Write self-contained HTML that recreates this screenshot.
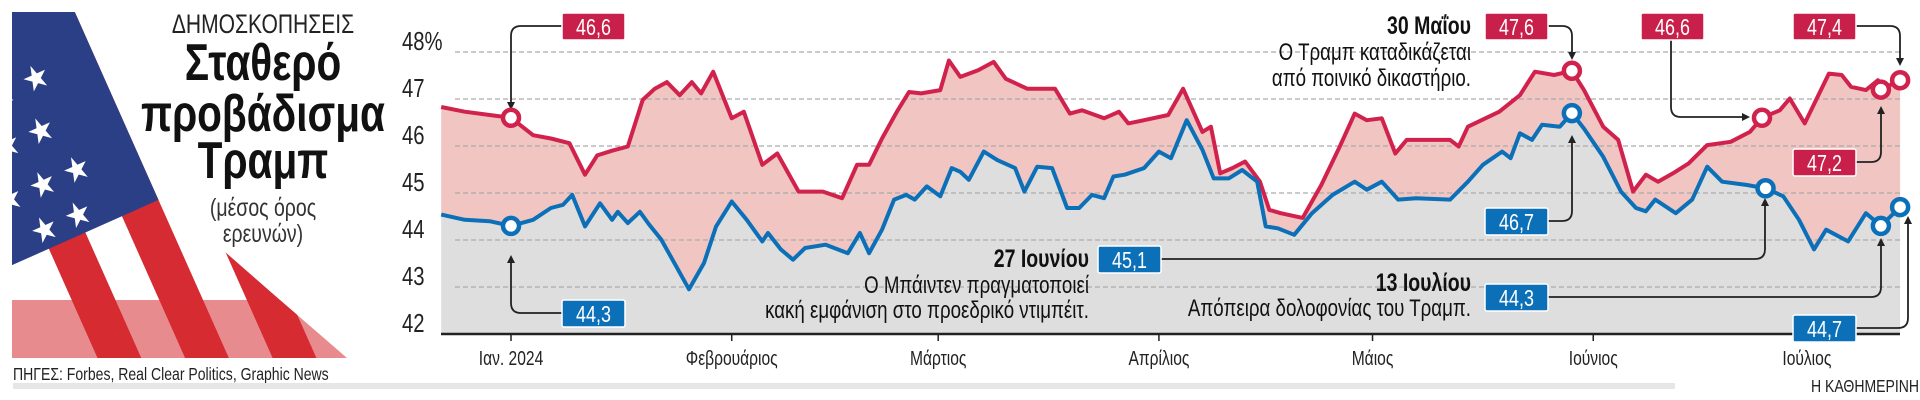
<!DOCTYPE html>
<html><head><meta charset="utf-8"><style>
html,body{margin:0;padding:0;background:#fff;overflow:hidden;width:1920px;height:400px;}
svg{display:block;}
text{font-family:"Liberation Sans Narrow","Liberation Sans","DejaVu Sans Condensed",sans-serif;}
</style></head><body>
<svg id="chart" width="1920" height="400" viewBox="0 0 1920 400" xmlns="http://www.w3.org/2000/svg">
  <defs>
    <clipPath id="flagclip"><polygon points="12,12 85,12 150,120 200,230 280,300 347,358 12,358"/></clipPath>
  </defs>
  <g clip-path="url(#flagclip)">
    <rect x="12" y="12" width="335" height="346" fill="#f4f1f1"/>
    <g transform="rotate(-24 60 200)">
      <rect x="-80" y="-40" width="600" height="600" fill="#fff"/>
      <rect x="30" y="-40" width="40" height="600" fill="#d62b32"/>
      <rect x="110" y="-40" width="40" height="600" fill="#d62b32"/>
      <rect x="190" y="-40" width="40" height="600" fill="#d62b32"/>
      <rect x="270" y="-40" width="40" height="600" fill="#d62b32"/>
      <rect x="350" y="-40" width="40" height="600" fill="#d62b32"/>
      <rect x="-80" y="-40" width="230" height="280" fill="#2b3f86"/>
      <text class="star" x="20" y="40" font-size="34" fill="#fff">★ ★</text>
      <text class="star" x="0" y="90" font-size="34" fill="#fff">★ ★ ★</text>
      <text class="star" x="20" y="140" font-size="34" fill="#fff">★ ★</text>
      <text class="star" x="0" y="190" font-size="34" fill="#fff">★ ★ ★</text>
      <text class="star" x="20" y="232" font-size="34" fill="#fff">★ ★</text>
    </g>
    <rect x="12" y="300" width="335" height="58" fill="#d62b32" opacity="0.55"/>
  </g>
  <text x="263" y="33" font-size="27" text-anchor="middle" fill="#222">ΔΗΜΟΣΚΟΠΗΣΕΙΣ</text>
  <text x="263" y="80" font-size="52" font-weight="bold" text-anchor="middle" fill="#111">Σταθερό</text>
  <text x="263" y="131" font-size="52" font-weight="bold" text-anchor="middle" fill="#111">προβάδισμα</text>
  <text x="263" y="178" font-size="52" font-weight="bold" text-anchor="middle" fill="#111">Τραμπ</text>
  <text x="263" y="216" font-size="25" text-anchor="middle" fill="#333">(μέσος όρος</text>
  <text x="263" y="242" font-size="25" text-anchor="middle" fill="#333">ερευνών)</text>
  <text x="13" y="380" font-size="18" fill="#222">ΠΗΓΕΣ: Forbes, Real Clear Politics, Graphic News</text>
  <rect x="13" y="383" width="1662" height="6" fill="#e6e6e6"/>
  <text x="1919" y="392" font-size="18" text-anchor="end" fill="#222">Η ΚΑΘΗΜΕΡΙΝΗ</text>
  <g id="plot"></g>
</svg>
<script>
const yTicks = [42, 43, 44, 45, 46, 47, 48];
const yTickLabels = ["42", "43", "44", "45", "46", "47", "48%"];
const monthDays = [0, 31, 60, 91, 121, 152, 182];
const monthLabels = ["Ιαν. 2024", "Φεβρουάριος", "Μάρτιος", "Απρίλιος", "Μάιος", "Ιούνιος", "Ιούλιος"];
const trumpDays = [-9.8,-6.5,-3,0,3.1,5.6,8.2,10.4,12.1,14.2,16.4,18.5,20.2,21.9,23.7,25.4,26.7,28.4,31,32.7,35.3,37.4,40.4,43.8,46.5,48.6,50.3,52.1,54.2,55.9,57.6,60.3,61.5,63.1,65.6,67.8,69.5,72.5,76.4,78.5,80.2,83.3,85.4,86.7,88.9,92.3,94.4,97.1,98.3,99.6,101.3,103.1,105.2,106.5,108.1,111.2,113.8,116.4,118.5,120.2,122.3,124.2,125.8,131.9,133.1,134.4,138.8,141.7,143.8,146.5,149,150.7,153.4,155.5,157.6,159.4,161.1,163.2,165.4,168,171.3,174,175.7,178.2,179.6,181.7,185.1,186.9,188.2,190.3,192,192.4,195.1];
const trumpVals = [46.83,46.73,46.66,46.6,46.23,46.16,46.06,45.39,45.8,45.9,45.99,46.98,47.22,47.36,47.08,47.36,47.12,47.58,46.59,46.73,45.6,45.84,45.03,45.03,44.89,45.6,45.6,46.16,46.73,47.15,47.12,47.19,47.82,47.47,47.61,47.79,47.43,47.22,47.22,46.69,46.76,46.59,46.73,46.48,46.55,46.66,47.22,46.3,46.41,45.42,45.53,45.67,45.24,44.64,44.57,44.47,45.17,45.99,46.69,46.55,46.59,45.84,46.13,46.13,45.99,46.41,46.73,47.08,47.58,47.51,47.6,47.19,46.41,46.13,45.03,45.39,45.24,45.42,45.63,46.02,46.09,46.3,46.6,46.76,47.01,46.48,47.54,47.51,47.26,47.19,47.4,47.2,47.4];
const bidenDays = [-9.8,-6.5,-3,0,3.1,5.6,7.3,8.6,10.4,12.5,14.2,15,16.4,18.1,19.4,21.1,23.2,25,27.1,28.8,31,33.1,35.3,36.1,37.9,39.6,41.3,44.2,47.3,49,50.3,52.1,53.8,55.5,56.7,58.4,60.3,61.9,63.1,64.3,66.4,68.3,70.8,72.1,73.9,76,78.1,79.8,81.6,83.3,84.6,86.2,88.9,91,92.7,94.9,97.1,98.7,100.8,102.7,104.8,106,107.7,110,112.5,115.4,118.5,120.2,122.3,124.6,127.1,131.9,134.4,136.5,139.2,140.4,141.7,143.4,144.8,147.3,149,150.7,153.4,155.9,158,159.4,160.7,163.6,165.9,168,170.1,173.6,176.2,178.7,180.9,183,184.7,187.8,190.3,192.4,195.1];
const bidenVals = [44.54,44.43,44.4,44.3,44.43,44.68,44.75,44.96,44.29,44.78,44.43,44.6,44.36,44.6,44.33,44.01,43.44,42.95,43.51,44.29,44.82,44.43,43.97,44.15,43.8,43.58,43.83,43.9,43.72,44.15,43.72,44.22,44.86,44.96,44.86,45.14,44.93,45.53,45.45,45.28,45.88,45.7,45.53,45.03,45.56,45.53,44.68,44.68,44.96,44.89,45.35,45.39,45.53,45.88,45.74,46.55,45.92,45.31,45.31,45.49,45.24,44.29,44.25,44.11,44.57,44.96,45.24,45.07,45.24,44.86,44.89,44.86,45.24,45.6,45.88,45.74,46.27,46.13,46.45,46.41,46.7,46.37,45.77,45.03,44.68,44.61,44.86,44.57,44.86,45.56,45.24,45.17,45.1,44.93,44.43,43.8,44.22,43.97,44.57,44.3,44.7];
const trumpMarkerDays = [0, 149, 175.7, 192.4, 195.1];
const trumpMarkerVals = [46.6, 47.6, 46.6, 47.2, 47.4];
const bidenMarkerDays = [0, 149, 176.2, 192.4, 195.1];
const bidenMarkerVals = [44.3, 46.7, 45.1, 44.3, 44.7];

const NS = "http://www.w3.org/2000/svg";
const plot = document.getElementById("plot");
const X0 = 511, PXDAY = 7.12, YBASE = 334, PXUNIT = 47, XL = 441, XR = 1900;
function xS(d){ return X0 + d * PXDAY; }
function yS(v){ return YBASE - (v - 42) * PXUNIT; }
function mk(tag, attrs, parent){ const e = document.createElementNS(NS, tag); for (const k in attrs) e.setAttribute(k, attrs[k]); (parent || plot).appendChild(e); return e; }
function pts(ds, vs){ return ds.map((d,i)=>xS(d).toFixed(1)+","+yS(vs[i]).toFixed(1)); }

const bp = pts(bidenDays, bidenVals);
const ga = mk("polygon", {points: bp.join(" ") + " " + xS(bidenDays[bidenDays.length-1]).toFixed(1) + "," + YBASE + " " + xS(bidenDays[0]).toFixed(1) + "," + YBASE, fill: "#dedede"});


const tp = pts(trumpDays, trumpVals);
const pa = mk("polygon", {points: tp.join(" ") + " " + bp.slice().reverse().join(" "), fill: "#f1c5c1"});



yTicks.forEach((t,i)=>{
  if (i > 0) {
    const g = mk("line", {x1: 455, x2: XR, y1: yS(t), y2: yS(t), stroke: "#aaa", "stroke-width": 1.2, "stroke-dasharray": "5,3"});
    
    
  }
  const lb = mk("text", {x: 402, y: yS(t) - 2, "font-size": 26, fill: "#222"});
  lb.textContent = yTickLabels[i];
  
  
});
const ax = mk("line", {x1: XL, x2: XR, y1: YBASE, y2: YBASE, stroke: "#222", "stroke-width": 2.5});


monthDays.forEach((d,i)=>{
  const tk = mk("line", {x1: xS(d), x2: xS(d), y1: YBASE, y2: YBASE + 7, stroke: "#222", "stroke-width": 1.5});
  
  
  const lb = mk("text", {x: xS(d), y: 365, "font-size": 20, "text-anchor": "middle", fill: "#222"});
  lb.textContent = monthLabels[i];
  
  
});

const tl = mk("polyline", {points: tp.join(" "), fill: "none", stroke: "#d0224c", "stroke-width": 4, "stroke-linejoin": "round"});


const bl = mk("polyline", {points: bp.join(" "), fill: "none", stroke: "#0b70b8", "stroke-width": 4, "stroke-linejoin": "round"});



function arrow(d){
  const p = mk("path", {d: d, fill: "none", stroke: "#222", "stroke-width": 1.8});
  
  
}
function head(x, y, dir){
  const s = dir === "down" ? `${x-4},${y-8} ${x+4},${y-8} ${x},${y}` : dir === "up" ? `${x-4},${y+8} ${x+4},${y+8} ${x},${y}` : `${x-8},${y-4} ${x-8},${y+4} ${x},${y}`;
  const h = mk("polygon", {points: s, fill: "#222"});
  
  
}
arrow("M562,26 H521 Q511,26 511,36 V108"); head(511,110,"down");
arrow("M562,313 H521 Q511,313 511,303 V257"); head(511,255,"up");
arrow("M1548,26 H1562 Q1572,26 1572,36 V58"); head(1572,60,"down");
arrow("M1548,221 H1562 Q1572,221 1572,211 V137"); head(1572,135,"up");
arrow("M1671,39 V107 Q1671,117 1681,117 H1746"); head(1750,117,"right");
arrow("M1856,26 H1890 Q1900,26 1900,36 V64"); head(1900,66,"down");
arrow("M1856,162 H1871 Q1881,162 1881,152 V108"); head(1881,106,"up");
arrow("M1161,259 H1755 Q1765,259 1765,249 V200"); head(1765,198,"up");
arrow("M1548,297 H1871 Q1881,297 1881,287 V240"); head(1881,238,"up");
arrow("M1856,328 H1898 Q1908,328 1908,318 V218"); head(1908,216,"up");

function marker(d, v, color){
  const c = mk("circle", {cx: xS(d), cy: yS(v), r: 8, fill: "#fff", stroke: color, "stroke-width": 4.5});
  
  
}
trumpMarkerDays.forEach((d,i)=>marker(d, trumpMarkerVals[i], "#d0224c"));
bidenMarkerDays.forEach((d,i)=>marker(d, bidenMarkerVals[i], "#0b70b8"));

function box(x, y, txt, color){
  const r = mk("rect", {x: x, y: y, width: 63, height: 27, rx: 2, fill: color, stroke: "#fff", "stroke-width": 1.5});
  
  
  const t = mk("text", {x: x + 31.5, y: y + 22, "font-size": 23, "text-anchor": "middle", fill: "#fff"});
  t.textContent = txt;
  
  
}
box(562, 13, "46,6", "#c8204a");
box(562, 300, "44,3", "#0b70b8");
box(1485, 13, "47,6", "#c8204a");
box(1485, 208, "46,7", "#0b70b8");
box(1641, 13, "46,6", "#c8204a");
box(1793, 13, "47,4", "#c8204a");
box(1793, 149, "47,2", "#c8204a");
box(1098, 246, "45,1", "#0b70b8");
box(1485, 284, "44,3", "#0b70b8");
box(1793, 315, "44,7", "#0b70b8");

function note(x, y, txt, bold){
  const t = mk("text", {x: x, y: y, "font-size": bold ? 25 : 24, "font-weight": bold ? "bold" : "normal", "text-anchor": "end", fill: "#111"});
  t.textContent = txt;
  
  
}
note(1471, 34, "30 Μαΐου", true);
note(1471, 60, "Ο Τραμπ καταδικάζεται", false);
note(1471, 86, "από ποινικό δικαστήριο.", false);
note(1089, 267, "27 Ιουνίου", true);
note(1089, 293, "Ο Μπάιντεν πραγματοποιεί", false);
note(1089, 318, "κακή εμφάνιση στο προεδρικό ντιμπέιτ.", false);
note(1471, 291, "13 Ιουλίου", true);
note(1471, 316, "Απόπειρα δολοφονίας του Τραμπ.", false);

document.querySelectorAll("svg text:not(.star)").forEach(t=>{
  const x = parseFloat(t.getAttribute("x")), y = parseFloat(t.getAttribute("y"));
  t.setAttribute("x", 0); t.setAttribute("y", 0);
  t.setAttribute("transform", `translate(${x},${y}) scale(0.78,1)`);
});
</script>
</body></html>
